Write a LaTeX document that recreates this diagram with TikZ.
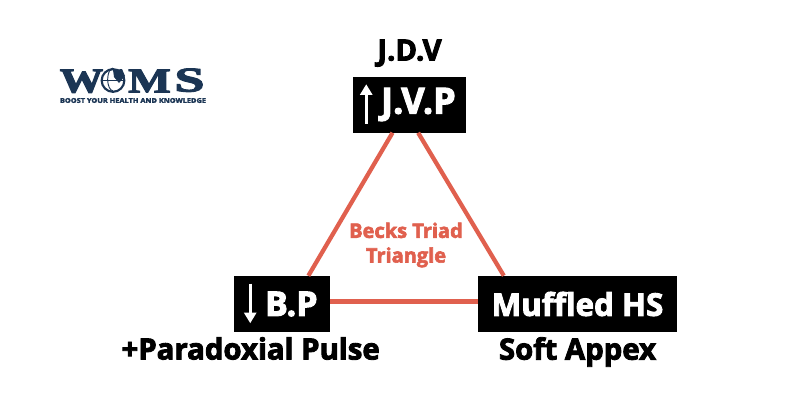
\documentclass[tikz,border=0pt]{standalone}
\usepackage{fontspec}
\setmainfont{Open Sans}[BoldFeatures={FakeBold=3}]
\newfontfamily\logofont{Liberation Serif}[BoldFeatures={FakeBold=3}]
\usetikzlibrary{positioning,arrows.meta}
\definecolor{triadRed}{HTML}{E0604E}
\definecolor{logoNavy}{HTML}{1B3554}

\begin{document}
\begin{tikzpicture}[
    x=0.75pt, y=-0.75pt,
    signbox/.style={
        rectangle, fill=black, text=white,
        minimum height=42pt, inner sep=0pt,
        font=\bfseries\fontsize{23.5}{26}\selectfont
    },
    caption/.style={font=\bfseries\fontsize{22}{24}\selectfont, text=black, inner sep=0pt},
    triadline/.style={draw=triadRed, line width=3.2pt},
    levelarrow/.style={draw=white, line width=2.6pt, -{Triangle[length=8pt, width=9pt]}},
    logoletter/.style={font=\logofont\bfseries\fontsize{26}{26}\selectfont, text=logoNavy, inner sep=0pt, text depth=0pt}
]
  \useasboundingbox (0,0) rectangle (800,400);

  % Nodes
  \node[signbox, minimum width=84.75pt, font=\bfseries\fontsize{27}{26}\selectfont] (jvp) at (409.5,104.5) {\hspace{13.5pt}J.V.P};
  \node[signbox, minimum width=72pt, font=\bfseries\fontsize{25.5}{26}\selectfont] (bp) at (282,304) {\hspace{14pt}B.P};
  \node[signbox, minimum width=149.25pt] (muffled) at (577.5,304) {Muffled HS};

  % Captions
  \node[caption, above=7pt of jvp] (jdv) {J.D.V};
  \node[caption, below=3.5pt of bp, xshift=-23.5pt] (pulse) {+Paradoxial Pulse};
  \node[caption, below=3.5pt of muffled] (apex) {Soft Appex};

  % Triangle
  \coordinate (triadlevel) at (bp.3);
  \draw[triadline] (jvp.239) -- (bp.47);
  \draw[triadline] (jvp.287) -- (muffled.159);
  \draw[triadline] (triadlevel) -- (triadlevel -| muffled.west);
  \node[align=center, text=triadRed, inner sep=0pt, font=\bfseries\fontsize{15}{18.5}\selectfont] (triad) at (406,245) {Becks Triad\\Triangle};

  % Level arrows
  \coordinate (jvpfoot) at ([shift={(13.5,-9)}]jvp.south west);
  \coordinate (jvphead) at ([shift={(13.5,8)}]jvp.north west);
  \draw[levelarrow] (jvpfoot) -- (jvphead);
  \coordinate (bpfoot) at ([shift={(16.5,8)}]bp.north west);
  \coordinate (bphead) at ([shift={(16.5,-9)}]bp.south west);
  \draw[levelarrow] (bpfoot) -- (bphead);

  % Logo
  \node[logoletter, xscale=1.25] (logow) at (81.5,81) {W};
  \node[logoletter, xscale=1.3] (logom) at (149.5,81) {M};
  \node[logoletter, xscale=1.55] (logos) at (189.5,80) {S};
  \node[circle, draw=logoNavy, line width=1.6pt, minimum size=17pt, inner sep=0pt] (globe) at (113,80.5) {};
  \draw[draw=logoNavy, line width=0.7pt] (globe.north) arc[start angle=90, end angle=270, x radius=4pt, y radius=8.5pt];
  \draw[draw=logoNavy, line width=0.7pt] (globe.west) -- (globe.east);
  \fill[logoNavy] (113,70) -- (122,69) -- (125,76) -- (119,83) -- (114,77) -- cycle;
  \node[inner sep=0pt, text=logoNavy, font=\bfseries] (tagline) at (133,100.5) {\resizebox{109.5pt}{3.6pt}{BOOST YOUR HEALTH AND KNOWLEDGE}};
\end{tikzpicture}
\end{document}
